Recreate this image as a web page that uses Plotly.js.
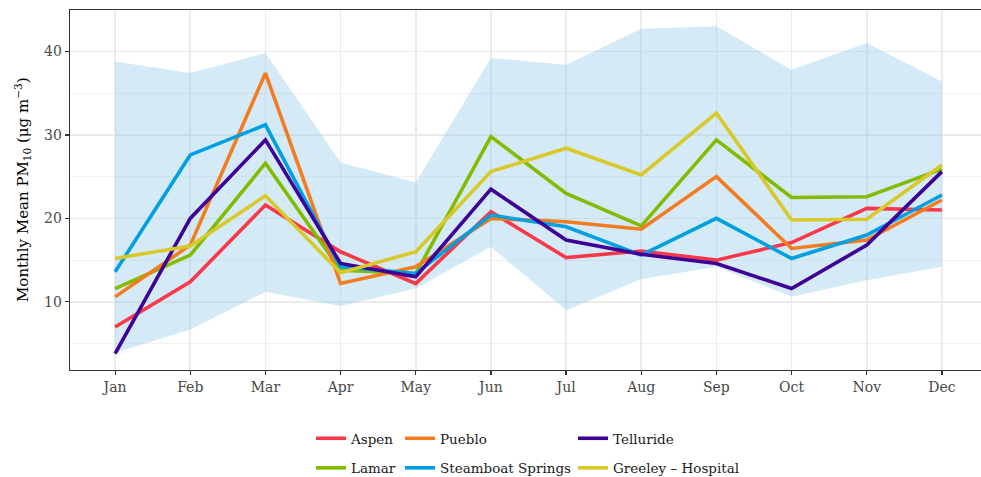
<!DOCTYPE html>
<html>
<head>
<meta charset="utf-8">
<script src="https://cdn.plot.ly/plotly-3.0.1.min.js"></script>
<style>html,body{margin:0;padding:0;background:#fff;}#chart{width:981px;height:477px;}</style>
</head>
<body>
<div id="chart"></div>
<script>
const months = ["Jan","Feb","Mar","Apr","May","Jun","Jul","Aug","Sep","Oct","Nov","Dec"];
const aspen     = [7.0, 12.4, 21.6, 16.0, 12.2, 20.8, 15.3, 16.1, 15.0, 17.1, 21.2, 21.0];
const pueblo    = [10.6, 16.8, 37.4, 12.2, 14.2, 20.0, 19.6, 18.7, 25.0, 16.4, 17.4, 22.2];
const telluride = [3.8, 20.0, 29.4, 14.6, 13.0, 23.5, 17.4, 15.7, 14.6, 11.6, 16.8, 25.6];
const lamar     = [11.6, 15.6, 26.6, 13.8, 13.4, 29.8, 23.0, 19.1, 29.4, 22.5, 22.6, 25.9];
const steamboat = [13.6, 27.6, 31.2, 14.2, 13.4, 20.4, 19.0, 15.6, 20.0, 15.2, 18.0, 22.8];
const greeley   = [15.2, 16.7, 22.7, 13.5, 16.0, 25.6, 28.4, 25.2, 32.6, 19.8, 19.9, 26.4];
const bandUpper = [38.8, 37.4, 39.8, 26.7, 24.3, 39.2, 38.4, 42.7, 43.0, 37.8, 41.0, 36.4];
const bandLower = [3.9, 6.7, 11.2, 9.5, 11.6, 16.6, 9.0, 12.7, 14.2, 10.6, 12.6, 14.2];
const yTitle = "Monthly Mean PM<sub>10</sub> (\u03bcg m<sup>\u22123</sup>)";

const seriesNames = ["Aspen","Lamar","Pueblo","Steamboat Springs","Telluride","Greeley \u2013 Hospital"];
const seriesData = [aspen, lamar, pueblo, steamboat, telluride, greeley];
const seriesColors = ["#f9384a","#82bb00","#f37c20","#00a0e0","#3f0096","#d9c82a"];
const legendIds = ["legend","legend","legend2","legend2","legend3","legend3"];

const FONT = "DejaVu Serif";
const xs = months.map((m,i)=>i);

const traces = [
  {x: xs, y: bandLower, type:"scatter", mode:"lines", line:{width:0, color:"rgba(0,0,0,0)"}, showlegend:false, hoverinfo:"skip"},
  {x: xs, y: bandUpper, type:"scatter", mode:"lines", line:{width:0, color:"rgba(0,0,0,0)"}, fill:"tonexty", fillcolor:"rgba(135,200,232,0.36)", showlegend:false, hoverinfo:"skip"}
];
seriesNames.forEach((n,i)=>{
  traces.push({x: xs, y: seriesData[i], type:"scatter", mode:"lines", name:n,
    line:{color:seriesColors[i], width:3.6}, legend:legendIds[i], legendgroup:n});
});

const legBase = {orientation:"v", xref:"container", yref:"container", yanchor:"top", xanchor:"left",
  font:{family:FONT, size:13.5, color:"#1a1a1a"}, bgcolor:"rgba(0,0,0,0)", tracegroupgap:9, itemwidth:30};

const layout = {
  width:981, height:477,
  margin:{l:70, r:0, t:10, b:107, autoexpand:false},
  paper_bgcolor:"#fff", plot_bgcolor:"#fff",
  font:{family:FONT, color:"#4d4d4d"},
  xaxis:{range:[-0.6, 11.52], tickvals:xs, ticktext:months, showgrid:true, gridcolor:"#ebebeb", gridwidth:1.6,
    zeroline:false, showline:true, mirror:true, linecolor:"#333", linewidth:1.3,
    ticks:"outside", ticklen:4, tickcolor:"#333", tickwidth:1.2,
    tickfont:{family:FONT, size:14, color:"#484848"}},
  yaxis:{range:[1.84, 44.96], tickvals:[10,20,30,40], showgrid:true, gridcolor:"#ebebeb", gridwidth:1.6,
    minor:{tickvals:[5,15,25,35,45], showgrid:true, gridcolor:"#f0f0f0", gridwidth:0.9, ticks:""},
    zeroline:false, showline:true, linecolor:"#333", linewidth:1.3,
    ticks:"outside", ticklen:4, tickcolor:"#333", tickwidth:1.2,
    tickfont:{family:FONT, size:14, color:"#484848"}},
  annotations:[{text:yTitle, xref:"paper", yref:"paper", x:-(70-22)/911, y:0.5, xanchor:"center", yanchor:"middle",
    textangle:-90, showarrow:false, font:{family:FONT, size:15, color:"#000"}}],
  legend: Object.assign({}, legBase, {x:311/981, y:1-423/477}),
  legend2: Object.assign({}, legBase, {x:400/981, y:1-423/477}),
  legend3: Object.assign({}, legBase, {x:573/981, y:1-423/477}),
  showlegend:true
};

Plotly.newPlot("chart", traces, layout, {displayModeBar:false, staticPlot:true});
</script>
</body>
</html>
